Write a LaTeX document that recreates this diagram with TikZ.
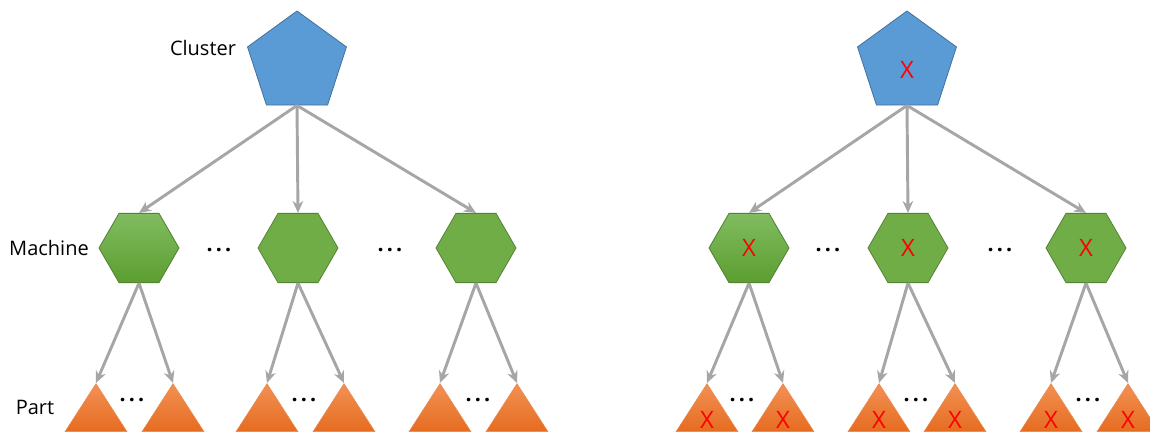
\documentclass[tikz,border=0pt]{standalone}
\usepackage{fontspec}
\setmainfont{Open Sans}
\usepackage{xcolor}
\usetikzlibrary{arrows.meta,positioning,shapes.geometric}

\definecolor{clusterblue}{RGB}{91,155,213}
\definecolor{clusteredge}{RGB}{65,113,156}
\definecolor{machgreen}{RGB}{112,173,71}
\definecolor{machedge}{RGB}{84,130,53}
\definecolor{machtop}{RGB}{128,188,96}
\definecolor{machbot}{RGB}{92,158,48}
\definecolor{parttop}{RGB}{243,144,84}
\definecolor{partbot}{RGB}{229,108,32}
\definecolor{linkgray}{RGB}{166,166,166}

\tikzset{
    cluster/.style={regular polygon, regular polygon sides=5, minimum size=78pt,
        inner sep=0pt, fill=clusterblue, draw=clusteredge, line width=0.6pt},
    machine/.style={regular polygon, regular polygon sides=6, minimum size=60pt,
        inner sep=0pt, fill=machgreen, draw=machedge, line width=0.6pt},
    shaded/.style={top color=machtop, bottom color=machbot},
    part/.style={isosceles triangle, shape border rotate=90, isosceles triangle stretches,
        minimum width=46.5pt, minimum height=36pt, inner sep=0pt, anchor=apex,
        top color=parttop, bottom color=partbot, draw=partbot!80!white, line width=0.4pt},
    link/.style={draw=linkgray, line width=2.2pt, -{Stealth[length=9pt, width=8pt]}},
    lbl/.style={font=\fontsize{15}{18}\selectfont},
    cross/.style={text=red, font=\fontsize{18}{20}\selectfont},
    lowcross/.style={cross, text height=22pt, text depth=0pt},
    gap/.style={font=\bfseries\fontsize{16}{18}\selectfont}
}

\begin{document}
\begin{tikzpicture}[x=0.75pt, y=-0.75pt]
    \useasboundingbox (0,0) rectangle (1150,434);

    % Beschriftung links
    \node[lbl] (lcluster) at (203,48) {Cluster};
    \node[lbl] (lmachine) at (49,248) {Machine};
    \node[lbl] (lpart) at (35,407) {Part};

    % linker Baum
    \node[cluster] (c) at (297,63) {};
    \node[machine, shaded] (m1) at (139,248) {};
    \node[machine] (m2) at (298,248) {};
    \node[machine] (m3) at (476,248) {};
    \node[part] (p11) at (96,383) {};
    \node[part] (p12) at (173,383) {};
    \node[part] (p21) at (267,383) {};
    \node[part] (p22) at (344,383) {};
    \node[part] (p31) at (440,383) {};
    \node[part] (p32) at (517,383) {};

    % rechter Baum, alles ausgefallen
    \node[cluster, label={[cross, yshift=-5pt]center:X}] (cx) at (907,63) {};
    \node[machine, shaded, cross] (mx1) at (749,248) {X};
    \node[machine, cross] (mx2) at (908,248) {X};
    \node[machine, cross] (mx3) at (1086,248) {X};
    \node[part, lowcross] (px11) at (707,383) {X};
    \node[part, lowcross] (px12) at (783,383) {X};
    \node[part, lowcross] (px21) at (879,383) {X};
    \node[part, lowcross] (px22) at (955,383) {X};
    \node[part, lowcross] (px31) at (1051,383) {X};
    \node[part, lowcross] (px32) at (1128,383) {X};

    % Pfeile
    \foreach \m in {m1,m2,m3}
        \draw[link] (c.south) -- (\m.north);
    \foreach \m in {mx1,mx2,mx3}
        \draw[link] (cx.south) -- (\m.north);
    \foreach \m in {1,2,3} {
        \draw[link] (m\m.south) -- (p\m1.apex);
        \draw[link] (m\m.south) -- (p\m2.apex);
        \draw[link] (mx\m.south) -- (px\m1.apex);
        \draw[link] (mx\m.south) -- (px\m2.apex);
    }

    % Auslassungspunkte
    \foreach \x/\y [count=\i] in {219/250, 390/250, 132/400, 304/400, 478/400,
                                  828/250, 1000/250, 742/400, 916/400, 1088/400}
        \node[gap] (dots\i) at (\x,\y) {.\hspace{2.4pt}.\hspace{2.4pt}.};
\end{tikzpicture}
\end{document}
